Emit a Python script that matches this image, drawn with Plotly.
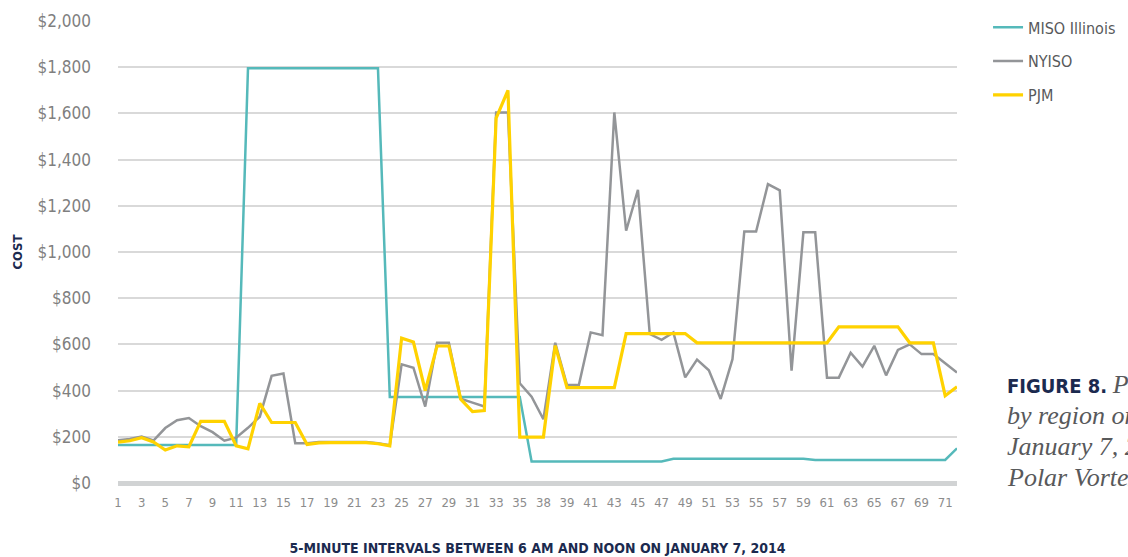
import plotly.graph_objects as go

intervals = list(range(1, 73))
tick_vals = list(range(1, 72, 2))
tick_text = ["1", "3", "5", "7", "9", "11", "13", "15", "17", "19", "21", "23", "25", "27",
             "29", "31", "33", "35", "38", "39", "41", "43", "45", "47", "49", "51", "53",
             "55", "57", "59", "61", "63", "65", "67", "69", "71"]

miso_illinois = [165] * 11 + [1795] * 12 + [372] * 12 + [93] * 12 + [105] * 12 + [100] * 12 + [150]

nyiso = [185, 191, 201, 184, 238, 272, 281, 246, 220, 183, 196, 239, 287, 464, 474, 172,
         172, 178, 178, 178, 178, 177, 172, 163, 514, 499, 331, 607, 607, 365, 348, 331,
         1604, 1604, 432, 374, 276, 607, 424, 424, 652, 640, 1604, 1092, 1269, 645, 620,
         652, 457, 534, 488, 364, 536, 1089, 1089, 1294, 1267, 486, 1085, 1085, 456, 456,
         564, 504, 594, 466, 576, 600, 558, 558, 518, 478]

pjm = [177, 183, 196, 178, 143, 161, 157, 267, 267, 267, 161, 148, 345, 262, 262, 262,
       167, 174, 175, 175, 175, 175, 170, 161, 627, 610, 400, 593, 593, 363, 309, 314,
       1580, 1700, 199, 199, 199, 595, 413, 413, 413, 413, 413, 647, 647, 647, 647, 647,
       647, 607, 607, 607, 607, 607, 607, 607, 607, 607, 607, 607, 607, 676, 676, 676,
       676, 676, 676, 607, 607, 607, 378, 417]

series_names = ["MISO Illinois", "NYISO", "PJM"]
series_colors = ["#55B9BA", "#939598", "#FFD200"]
series_widths = [2.5, 2.5, 3.2]

caption_lines = ["FIGURE 8.", "Prices", "by region on the", "January 7, 2014", "Polar Vortex"]

NAVY = "#1B2A4F"
SANS = "DejaVu Sans Condensed, Liberation Sans Narrow, sans-serif"
SERIF = "Liberation Serif, DejaVu Serif, serif"

fig = go.Figure()
for name, vals, col, w in zip(series_names, [miso_illinois, nyiso, pjm], series_colors, series_widths):
    fig.add_trace(go.Scatter(x=intervals, y=vals, mode="lines", name=name,
                             legendgroup=name,
                             line=dict(color=col, width=w)))

fig.update_layout(
    width=1128, height=557,
    margin=dict(l=118, r=171, t=21, b=74, autoexpand=False),
    paper_bgcolor="white", plot_bgcolor="white",
    font=dict(family=SANS, color="#7F7F7F"),
    showlegend=True,
    legend=dict(x=1.037, y=1.023, xanchor="left", yanchor="top",
                font=dict(size=16, color="#58595B", family=SANS),
                tracegroupgap=10, itemclick=False),
    xaxis=dict(range=[1, 72], tickmode="array", tickvals=tick_vals, ticktext=tick_text,
               showgrid=False, zeroline=False, showline=False, ticks="",
               ticklabelstandoff=10,
               tickfont=dict(size=13, color="#8C8C8C"),
               title=dict(text="<b>5-MINUTE INTERVALS BETWEEN 6 AM AND NOON ON JANUARY 7, 2014</b>",
                          font=dict(size=14, color=NAVY, family=SANS), standoff=34)),
    yaxis=dict(range=[0, 2000], dtick=200, tickprefix="$", tickformat=",",
               showgrid=True, gridcolor="#D9D9D9", gridwidth=1.5,
               zeroline=True, zerolinecolor="#D1D3D4", zerolinewidth=5,
               showline=False, ticks="", ticklabelstandoff=26,
               tickfont=dict(size=17, color="#7F7F7F"),
               title=dict(text="<b>COST</b>", font=dict(size=13, color=NAVY, family=SANS),
                          standoff=11)),
)

cap_x = 1.057
fig.add_annotation(xref="paper", yref="paper", x=cap_x, y=0.214, xanchor="left", yanchor="middle",
                   showarrow=False, align="left",
                   text="<b>" + caption_lines[0] + "</b> <span style='font-family:" + SERIF +
                        "; color:#58595B; font-size:26px'><i>" + caption_lines[1] + "</i></span>",
                   font=dict(family=SANS, size=20, color=NAVY))
for line, yp in zip(caption_lines[2:], [0.147, 0.078, 0.011]):
    fig.add_annotation(xref="paper", yref="paper", x=cap_x, y=yp, xanchor="left", yanchor="middle",
                       showarrow=False, align="left", text="<i>" + line + "</i>",
                       font=dict(family=SERIF, size=26, color="#58595B"))

fig.write_html("out.html", config={"displayModeBar": False},
               post_script="document.body.style.margin='0';")
